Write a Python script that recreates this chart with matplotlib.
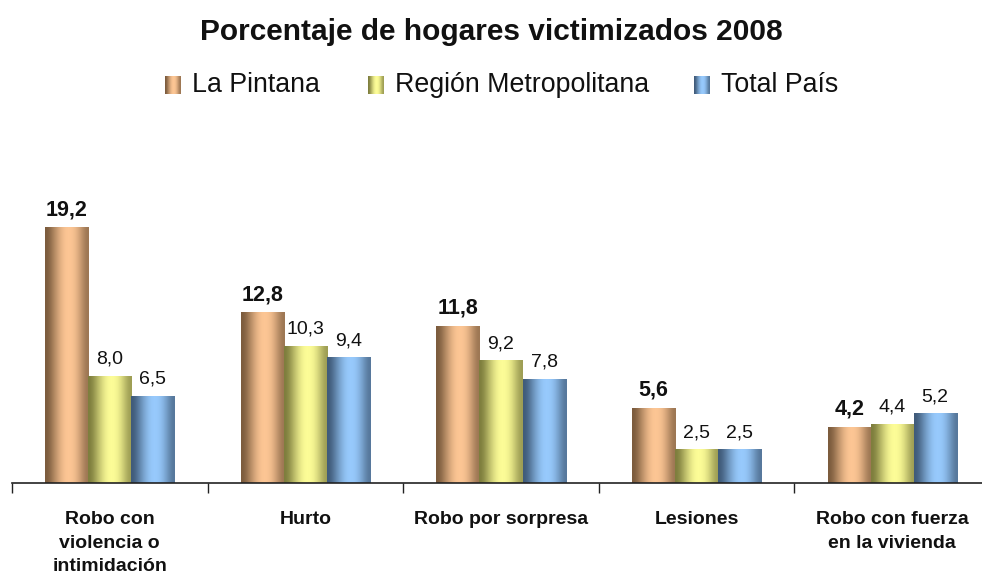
import numpy as np
import matplotlib
matplotlib.use("Agg")
import matplotlib.pyplot as plt
from matplotlib.colors import LinearSegmentedColormap

plt.rcParams['font.family'] = ['Liberation Sans', 'DejaVu Sans']

# data
categories = ["Robo con\nviolencia o\nintimidación", "Hurto", "Robo por sorpresa",
              "Lesiones", "Robo con fuerza\nen la vivienda"]
series = ["La Pintana", "Región Metropolitana", "Total País"]
la_pintana = [19.2, 12.8, 11.8, 5.6, 4.2]
region_metro = [8.0, 10.3, 9.2, 2.5, 4.4]
total_pais = [6.5, 9.4, 7.8, 2.5, 5.2]

# shading: dark edge -> light -> dark edge
shades = [
    ("#7a5a3c", "#ffc896"),
    ("#7c7c3c", "#ffff99"),
    ("#3f5a78", "#99ccff"),
]

fig = plt.figure(figsize=(9.82, 5.77), dpi=100)
ax = fig.add_axes([12/982, 1-483/577, 978/982, 292.6/577])

x = np.arange(len(categories))
w = 0.22
grad = np.array([[0.0, 0.35, 0.7, 0.95, 1.0, 0.9, 0.6, 0.25]])

for k, vals in enumerate([la_pintana, region_metro, total_pais]):
    cmap = LinearSegmentedColormap.from_list("c%d" % k, list(shades[k]))
    bars = ax.bar(x + (k-1)*w, vals, w, color=shades[k][1], linewidth=0)
    for b, v in zip(bars, vals):
        ax.imshow(grad, cmap=cmap, vmin=0, vmax=1, aspect='auto',
                  extent=(b.get_x(), b.get_x()+b.get_width(), 0, b.get_height()),
                  interpolation='bicubic', zorder=2)
        ax.text(b.get_x()+b.get_width()/2, v + 0.95, ("%.1f" % v).replace(".", ","),
                ha='center', va='baseline', fontsize=14 if k else 15.5,
                fontweight='bold' if k == 0 else 'normal', color='#111111', zorder=3)

ax.set_xlim(-0.5, len(categories)-0.5)
ax.set_ylim(0, 22)
ax.set_yticks([])
ax.set_xticks(np.arange(len(categories)+1) - 0.5)
ax.set_xticklabels([])
ax.tick_params(axis='x', length=7, width=1, color='#222222', direction='out')
for s in ['top', 'right', 'left']:
    ax.spines[s].set_visible(False)
ax.spines['bottom'].set_color('#222222')
ax.spines['bottom'].set_linewidth(1.2)

for i, c in enumerate(categories):
    ax.text(i, -2.1, c, ha='center', va='top', fontsize=14, fontweight='bold',
            color='#111111', linespacing=1.52)

fig.text(0.5, 1-32/577, "Porcentaje de hogares victimizados 2008", ha='center', va='center',
         fontsize=21.5, fontweight='bold', color='#111111')

# legend
leg_x = [165, 368, 694]
for k, name in enumerate(series):
    fx = leg_x[k]/982
    fy = 1-85/577
    cmap = LinearSegmentedColormap.from_list("l%d" % k, list(shades[k]))
    lax = fig.add_axes([fx, fy-9/577, 16/982, 18/577])
    lax.imshow(grad, cmap=cmap, vmin=0, vmax=1, aspect='auto', interpolation='bicubic')
    lax.axis('off')
    fig.text(fx + 27/982, fy, name, ha='left', va='center', fontsize=19.3, color='#111111')

fig.savefig("out.png", dpi=100)
